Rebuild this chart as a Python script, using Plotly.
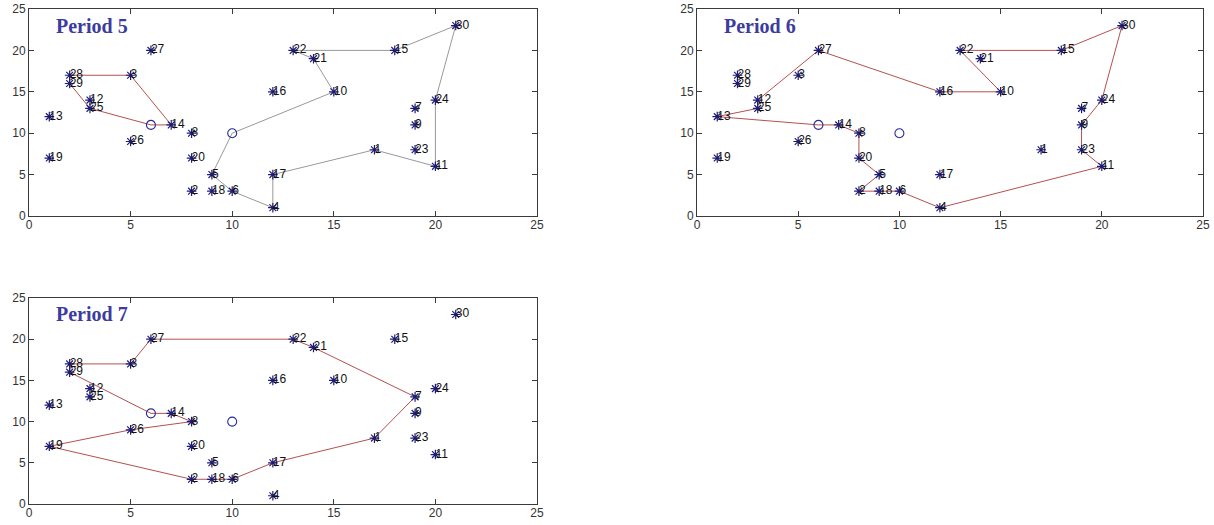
import plotly.graph_objects as go

# ---- data ----
node_ids = list(range(1, 31))
node_x = [17, 8, 5, 12, 9, 10, 19, 8, 19, 15, 20, 3, 1, 7, 18, 12, 12, 9, 1, 8,
          14, 13, 19, 20, 3, 5, 6, 2, 2, 21]
node_y = [8, 3, 17, 1, 5, 3, 13, 10, 11, 15, 6, 14, 12, 11, 20, 15, 5, 3, 7, 7,
          19, 20, 8, 14, 13, 9, 20, 17, 16, 23]
depot_names = ["A", "B"]
depot_x = [6, 10]
depot_y = [11, 10]

period_titles = ["Period 5", "Period 6", "Period 7"]
# routes: sequence of stops; "A"/"B" are depots (open circles)
routes_p5 = [
    (["A", 14, 3, 28, 29, 25, "A"], "red"),
    (["B", 10, 21, 22, 15, 30, 24, 11, 1, 17, 4, 6, 5, "B"], "gray"),
]
routes_p6 = [
    (["A", 13, 25, 12, 27, 16, 10, 22, 15, 30, 24, 9, 23, 11, 4, 6, 18, 2, 5, 20, 8, 14, "A"], "red"),
]
routes_p7 = [
    (["A", 14, 8, 26, 19, 2, 18, 6, 17, 1, 7, 21, 22, 27, 3, 28, 29, "A"], "red"),
]
period_routes = [routes_p5, routes_p6, routes_p7]

axis_ticks = [0, 5, 10, 15, 20, 25]

# ---- styling ----
W, H = 1214, 525
route_colors = {"red": "#b4514f", "gray": "#999999"}
star_color = "#1c1c78"
depot_color = "#2a2a9a"
title_color = "#3c3ca0"
axis_color = "#3a3a3a"

domains = [
    ([29 / W, 537 / W], [1 - 216 / H, 1 - 9 / H]),
    ([697 / W, 1203 / W], [1 - 216 / H, 1 - 9 / H]),
    ([29 / W, 537 / W], [1 - 504 / H, 1 - 298 / H]),
]


def coord(stop):
    if stop in depot_names:
        i = depot_names.index(stop)
        return depot_x[i], depot_y[i]
    i = node_ids.index(stop)
    return node_x[i], node_y[i]


fig = go.Figure()

for p, (title, routes) in enumerate(zip(period_titles, period_routes)):
    sfx = "" if p == 0 else str(p + 1)
    xa, ya = "x" + sfx, "y" + sfx
    for stops, cname in routes:
        xs, ys = zip(*[coord(s) for s in stops])
        fig.add_trace(go.Scatter(x=list(xs), y=list(ys), mode="lines",
                                 line=dict(color=route_colors[cname], width=1),
                                 xaxis=xa, yaxis=ya, showlegend=False, hoverinfo="skip"))
    fig.add_trace(go.Scatter(x=node_x, y=node_y, mode="markers",
                             marker=dict(symbol="asterisk-open", size=8, color=star_color,
                                         line=dict(color=star_color, width=1.2)),
                             xaxis=xa, yaxis=ya, showlegend=False))
    fig.add_trace(go.Scatter(x=node_x, y=node_y, mode="text",
                             text=[str(n) for n in node_ids],
                             textposition="middle right",
                             textfont=dict(family="Liberation Sans, Arial", size=12, color="#111111"),
                             marker=dict(size=5),
                             xaxis=xa, yaxis=ya, showlegend=False))
    fig.add_trace(go.Scatter(x=depot_x, y=depot_y, mode="markers",
                             marker=dict(symbol="circle-open", size=9, color=depot_color,
                                         line=dict(color=depot_color, width=1.1)),
                             xaxis=xa, yaxis=ya, showlegend=False))
    fig.add_annotation(x=1.25, y=23.0, xref=xa, yref=ya, text="<b>" + title + "</b>",
                       showarrow=False, xanchor="left", yanchor="middle",
                       font=dict(family="Liberation Serif, Times New Roman", size=20, color=title_color))

    xd, yd = domains[p]
    axkw = dict(range=[0, 25], tickvals=axis_ticks, ticks="inside", ticklen=5,
                tickcolor=axis_color, showline=True, linecolor=axis_color, linewidth=1,
                mirror="ticks", showgrid=False, zeroline=False, automargin=False,
                tickfont=dict(family="Liberation Sans, Arial", size=12, color="#333333"))
    fig.update_layout(**{
        "xaxis" + sfx: dict(domain=xd, anchor=ya, ticklabelstandoff=-2, **axkw),
        "yaxis" + sfx: dict(domain=yd, anchor=xa, **axkw),
    })

fig.update_layout(width=W, height=H, margin=dict(l=0, r=0, t=0, b=0),
                  paper_bgcolor="white", plot_bgcolor="white", showlegend=False)

fig.write_html("out.html", config={"displayModeBar": False},
               post_script="document.body.style.margin='0px';document.body.style.overflow='hidden';")
